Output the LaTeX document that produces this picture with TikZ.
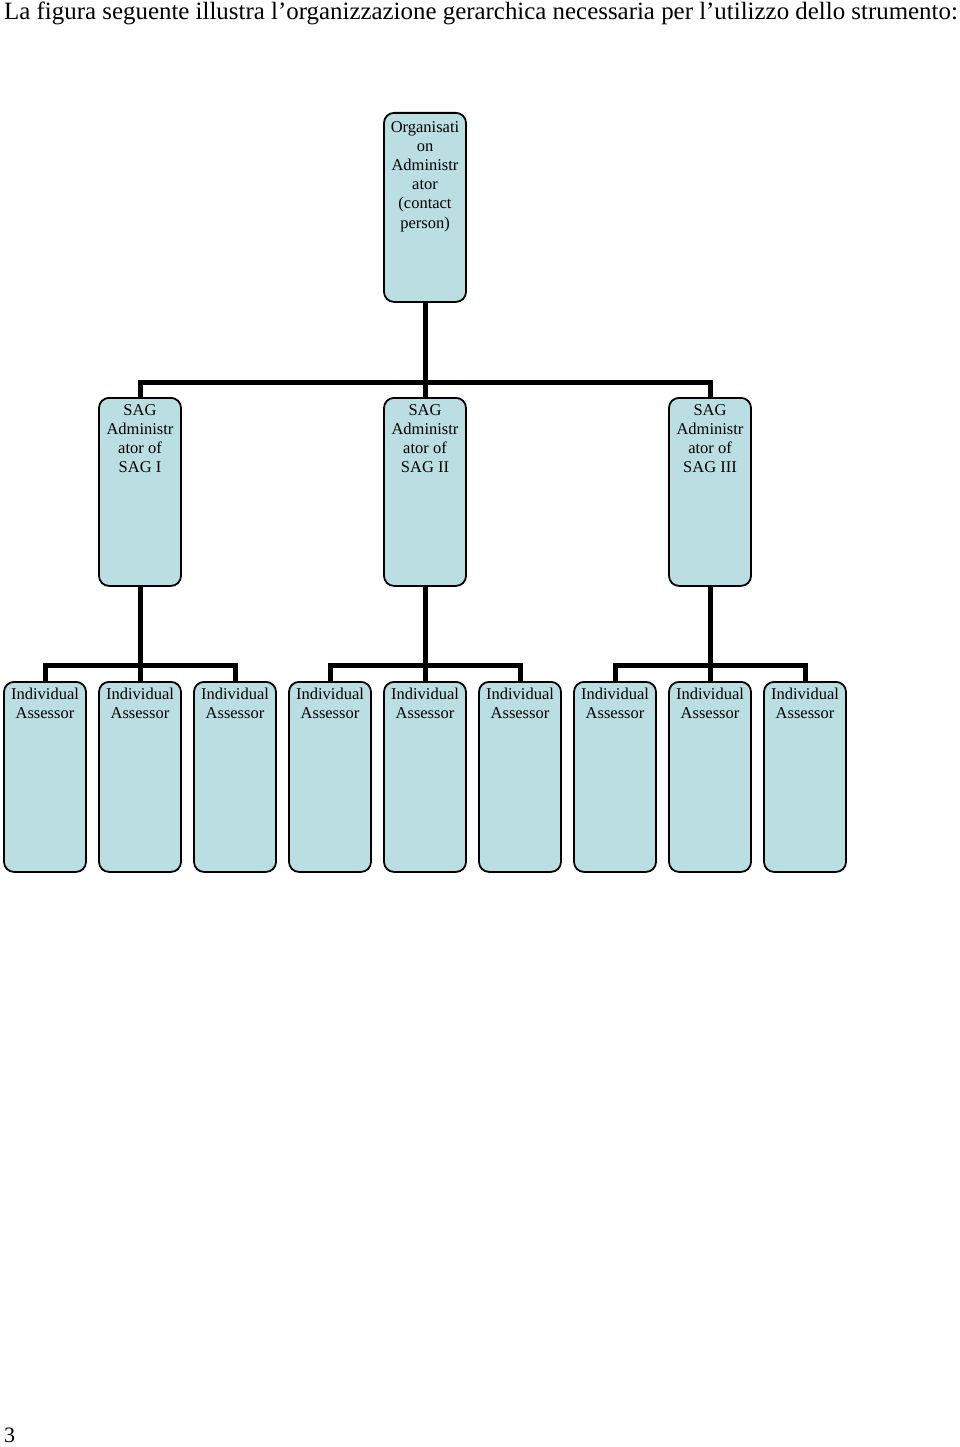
\documentclass[tikz,border=0pt]{standalone}
\usepackage{fontspec}
\setmainfont{Liberation Serif}
\definecolor{boxfill}{RGB}{186,222,226}
\tikzset{
  orgbox/.style={draw=black, line width=1.8pt, fill=boxfill, rounded corners=10pt,
    minimum width=82pt, minimum height=#1, inner sep=0pt, anchor=north},
  boxtext/.style={font=\fontsize{16.5}{19.2}\selectfont, align=center, inner sep=0pt, anchor=north},
  plaintext/.style={anchor=base west, inner sep=0pt, font=\fontsize{24.9}{28}\selectfont},
  link/.style={line width=5pt, line join=miter}
}
\begin{document}
\begin{tikzpicture}[x=1pt,y=-1pt]
\useasboundingbox (0,0) rectangle (960,1447);
\node[plaintext] (title) at (4,20)
  {La figura seguente illustra l’organizzazione gerarchica necessaria per l’utilizzo dello strumento:};
\node[plaintext, font=\fontsize{22}{26}\selectfont] (pnum) at (4,1442) {3};

% junction coordinates
\coordinate (j0) at (425,382);
\coordinate (j1) at (140,665);
\coordinate (j2) at (425,665);
\coordinate (j3) at (710,665);

% boxes
\node[orgbox=189pt] (top) at (425,112) {};
\node[boxtext] at (425,121) {Organisati\\on\\Administr\\ator\\(contact\\person)};

\foreach \n/\x/\t in {I/140/SAG I, II/425/SAG II, III/710/SAG III}{
  \node[orgbox=188pt] (sag\n) at (\x,397) {};
  \node[boxtext] at (\x,404) {SAG\\Administr\\ator of\\\t};
}

\foreach \i/\x in {1/45,2/140,3/235,4/330,5/425,6/520,7/615,8/710,9/805}{
  \node[orgbox=190pt] (ia\i) at (\x,681) {};
  \node[boxtext] at (\x,688) {Individual\\Assessor};
}

% connectors
\draw[link] (top.south) -- (sagII.north);
\draw[link] (sagI.north) |- (j0) -| (sagIII.north);
\draw[link] (sagI.south) -- (ia2.north);
\draw[link] (ia1.north) |- (j1) -| (ia3.north);
\draw[link] (sagII.south) -- (ia5.north);
\draw[link] (ia4.north) |- (j2) -| (ia6.north);
\draw[link] (sagIII.south) -- (ia8.north);
\draw[link] (ia7.north) |- (j3) -| (ia9.north);
\end{tikzpicture}
\end{document}
